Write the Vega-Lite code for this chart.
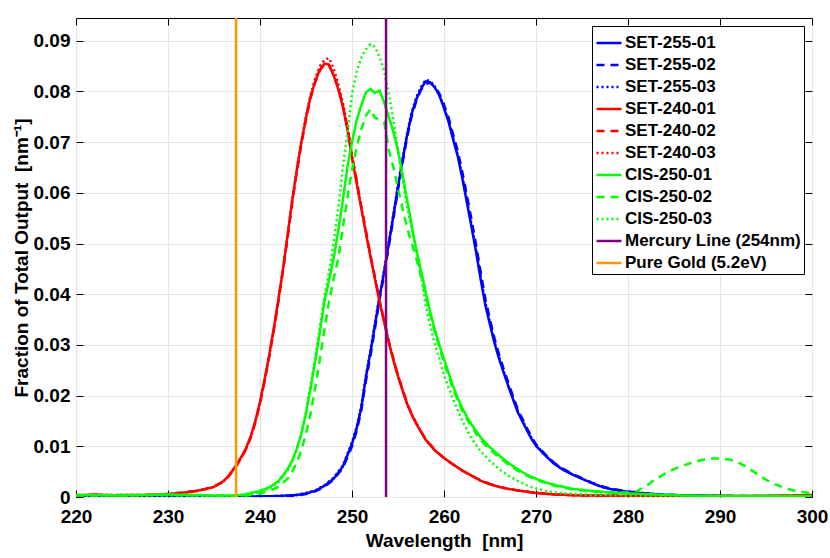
{
"$schema": "https://vega.github.io/schema/vega-lite/v6.json",
"autosize": {"type": "none"},
"padding": {"left": 76, "top": 18, "right": 18, "bottom": 61},
"width": 736,
"height": 479,
"background": "white",
"config": {
  "view": {"stroke": "black", "strokeWidth": 1},
  "font": "Liberation Sans",
  "axis": {"labelFont": "Liberation Sans", "labelFontWeight": "bold", "labelFontSize": 19, "labelColor": "black", "labelFlush": false,
    "titleFont": "Liberation Sans", "titleFontWeight": "bold", "titleFontSize": 19, "titleColor": "black",
    "domainColor": "black", "tickColor": "black", "gridColor": "#e6e6e6", "gridWidth": 1},
  "legend": {"orient": "top-right", "offset": 8, "padding": 3, "rowPadding": -1.2, "labelOffset": 2,
    "symbolType": "stroke", "symbolSize": 625, "strokeColor": "black", "fillColor": "white",
    "labelFont": "Liberation Sans", "labelFontWeight": "bold", "labelFontSize": 17, "labelColor": "black", "labelLimit": 300}
},
"datasets": {
"curves": [
{"s":"SET-255-01","x":220,"y":0.0002},{"s":"SET-255-01","x":225,"y":0.0001},{"s":"SET-255-01","x":230,"y":0.0001},{"s":"SET-255-01","x":235,"y":0.0001},{"s":"SET-255-01","x":240,"y":0.0001},{"s":"SET-255-01","x":242,"y":0.0002},{"s":"SET-255-01","x":244,"y":0.0004},{"s":"SET-255-01","x":245,"y":0.0007},{"s":"SET-255-01","x":246,"y":0.0012},{"s":"SET-255-01","x":247,"y":0.0022},{"s":"SET-255-01","x":248,"y":0.0036},{"s":"SET-255-01","x":249,"y":0.006},{"s":"SET-255-01","x":250,"y":0.0105},{"s":"SET-255-01","x":250.5,"y":0.0135},{"s":"SET-255-01","x":251,"y":0.0175},{"s":"SET-255-01","x":251.5,"y":0.0235},{"s":"SET-255-01","x":252,"y":0.0285},{"s":"SET-255-01","x":252.5,"y":0.034},{"s":"SET-255-01","x":253,"y":0.0395},{"s":"SET-255-01","x":253.5,"y":0.0445},{"s":"SET-255-01","x":254,"y":0.05},{"s":"SET-255-01","x":254.5,"y":0.0555},{"s":"SET-255-01","x":255,"y":0.0612},{"s":"SET-255-01","x":255.5,"y":0.0665},{"s":"SET-255-01","x":256,"y":0.0715},{"s":"SET-255-01","x":256.5,"y":0.0757},{"s":"SET-255-01","x":257,"y":0.0785},{"s":"SET-255-01","x":257.5,"y":0.0805},{"s":"SET-255-01","x":258,"y":0.082},{"s":"SET-255-01","x":258.5,"y":0.0818},{"s":"SET-255-01","x":259,"y":0.0808},{"s":"SET-255-01","x":259.5,"y":0.0792},{"s":"SET-255-01","x":260,"y":0.0767},{"s":"SET-255-01","x":260.5,"y":0.074},{"s":"SET-255-01","x":261,"y":0.0705},{"s":"SET-255-01","x":261.5,"y":0.0672},{"s":"SET-255-01","x":262,"y":0.0628},{"s":"SET-255-01","x":262.5,"y":0.058},{"s":"SET-255-01","x":263,"y":0.0532},{"s":"SET-255-01","x":263.5,"y":0.0482},{"s":"SET-255-01","x":264,"y":0.0428},{"s":"SET-255-01","x":264.5,"y":0.0378},{"s":"SET-255-01","x":265,"y":0.034},{"s":"SET-255-01","x":265.5,"y":0.0303},{"s":"SET-255-01","x":266,"y":0.0272},{"s":"SET-255-01","x":266.5,"y":0.0245},{"s":"SET-255-01","x":267,"y":0.0218},{"s":"SET-255-01","x":267.5,"y":0.0193},{"s":"SET-255-01","x":268,"y":0.0168},{"s":"SET-255-01","x":268.5,"y":0.015},{"s":"SET-255-01","x":269,"y":0.0132},{"s":"SET-255-01","x":269.5,"y":0.0115},{"s":"SET-255-01","x":270,"y":0.0101},{"s":"SET-255-01","x":271,"y":0.0082},{"s":"SET-255-01","x":272,"y":0.0065},{"s":"SET-255-01","x":273,"y":0.0053},{"s":"SET-255-01","x":274,"y":0.0044},{"s":"SET-255-01","x":275,"y":0.0036},{"s":"SET-255-01","x":276,"y":0.0028},{"s":"SET-255-01","x":277,"y":0.0021},{"s":"SET-255-01","x":278,"y":0.0016},{"s":"SET-255-01","x":280,"y":0.001},{"s":"SET-255-01","x":282,"y":0.0007},{"s":"SET-255-01","x":284,"y":0.0004},{"s":"SET-255-01","x":287,"y":0.0003},{"s":"SET-255-01","x":290,"y":0.0002},{"s":"SET-255-01","x":295,"y":0.0001},{"s":"SET-255-01","x":300,"y":0.0001},
{"s":"SET-255-02","x":220,"y":0.0001},{"s":"SET-255-02","x":225,"y":0.0002},{"s":"SET-255-02","x":230,"y":0.0001},{"s":"SET-255-02","x":235,"y":0.0001},{"s":"SET-255-02","x":240,"y":0.0001},{"s":"SET-255-02","x":242,"y":0.0001},{"s":"SET-255-02","x":244,"y":0.0003},{"s":"SET-255-02","x":245,"y":0.0006},{"s":"SET-255-02","x":246,"y":0.0011},{"s":"SET-255-02","x":247,"y":0.002},{"s":"SET-255-02","x":248,"y":0.0034},{"s":"SET-255-02","x":249,"y":0.0057},{"s":"SET-255-02","x":250,"y":0.01},{"s":"SET-255-02","x":250.5,"y":0.013},{"s":"SET-255-02","x":251,"y":0.017},{"s":"SET-255-02","x":251.5,"y":0.0228},{"s":"SET-255-02","x":252,"y":0.0278},{"s":"SET-255-02","x":252.5,"y":0.0333},{"s":"SET-255-02","x":253,"y":0.039},{"s":"SET-255-02","x":253.5,"y":0.044},{"s":"SET-255-02","x":254,"y":0.0495},{"s":"SET-255-02","x":254.5,"y":0.055},{"s":"SET-255-02","x":255,"y":0.0607},{"s":"SET-255-02","x":255.5,"y":0.066},{"s":"SET-255-02","x":256,"y":0.071},{"s":"SET-255-02","x":256.5,"y":0.0752},{"s":"SET-255-02","x":257,"y":0.0782},{"s":"SET-255-02","x":257.5,"y":0.0803},{"s":"SET-255-02","x":258,"y":0.0815},{"s":"SET-255-02","x":258.5,"y":0.0817},{"s":"SET-255-02","x":259,"y":0.081},{"s":"SET-255-02","x":259.5,"y":0.0796},{"s":"SET-255-02","x":260,"y":0.0774},{"s":"SET-255-02","x":260.5,"y":0.0748},{"s":"SET-255-02","x":261,"y":0.0715},{"s":"SET-255-02","x":261.5,"y":0.0682},{"s":"SET-255-02","x":262,"y":0.064},{"s":"SET-255-02","x":262.5,"y":0.0594},{"s":"SET-255-02","x":263,"y":0.0546},{"s":"SET-255-02","x":263.5,"y":0.0496},{"s":"SET-255-02","x":264,"y":0.0442},{"s":"SET-255-02","x":264.5,"y":0.039},{"s":"SET-255-02","x":265,"y":0.035},{"s":"SET-255-02","x":265.5,"y":0.0312},{"s":"SET-255-02","x":266,"y":0.028},{"s":"SET-255-02","x":266.5,"y":0.0252},{"s":"SET-255-02","x":267,"y":0.0225},{"s":"SET-255-02","x":267.5,"y":0.0199},{"s":"SET-255-02","x":268,"y":0.0174},{"s":"SET-255-02","x":268.5,"y":0.0155},{"s":"SET-255-02","x":269,"y":0.0136},{"s":"SET-255-02","x":269.5,"y":0.0119},{"s":"SET-255-02","x":270,"y":0.0104},{"s":"SET-255-02","x":271,"y":0.0084},{"s":"SET-255-02","x":272,"y":0.0067},{"s":"SET-255-02","x":273,"y":0.0055},{"s":"SET-255-02","x":274,"y":0.0045},{"s":"SET-255-02","x":275,"y":0.0037},{"s":"SET-255-02","x":276,"y":0.0029},{"s":"SET-255-02","x":277,"y":0.0022},{"s":"SET-255-02","x":278,"y":0.0017},{"s":"SET-255-02","x":280,"y":0.0011},{"s":"SET-255-02","x":282,"y":0.0007},{"s":"SET-255-02","x":284,"y":0.0005},{"s":"SET-255-02","x":287,"y":0.0003},{"s":"SET-255-02","x":290,"y":0.0002},{"s":"SET-255-02","x":295,"y":0.0002},{"s":"SET-255-02","x":300,"y":0.0001},
{"s":"SET-255-03","x":220,"y":0.0001},{"s":"SET-255-03","x":225,"y":0.0001},{"s":"SET-255-03","x":230,"y":0.0002},{"s":"SET-255-03","x":235,"y":0.0001},{"s":"SET-255-03","x":240,"y":0.0001},{"s":"SET-255-03","x":242,"y":0.0002},{"s":"SET-255-03","x":244,"y":0.0004},{"s":"SET-255-03","x":245,"y":0.0008},{"s":"SET-255-03","x":246,"y":0.0013},{"s":"SET-255-03","x":247,"y":0.0023},{"s":"SET-255-03","x":248,"y":0.0038},{"s":"SET-255-03","x":249,"y":0.0062},{"s":"SET-255-03","x":250,"y":0.0108},{"s":"SET-255-03","x":250.5,"y":0.0138},{"s":"SET-255-03","x":251,"y":0.0178},{"s":"SET-255-03","x":251.5,"y":0.0238},{"s":"SET-255-03","x":252,"y":0.0288},{"s":"SET-255-03","x":252.5,"y":0.0343},{"s":"SET-255-03","x":253,"y":0.0398},{"s":"SET-255-03","x":253.5,"y":0.0448},{"s":"SET-255-03","x":254,"y":0.0503},{"s":"SET-255-03","x":254.5,"y":0.0558},{"s":"SET-255-03","x":255,"y":0.0615},{"s":"SET-255-03","x":255.5,"y":0.0668},{"s":"SET-255-03","x":256,"y":0.0718},{"s":"SET-255-03","x":256.5,"y":0.076},{"s":"SET-255-03","x":257,"y":0.0789},{"s":"SET-255-03","x":257.5,"y":0.0809},{"s":"SET-255-03","x":258,"y":0.0823},{"s":"SET-255-03","x":258.5,"y":0.0821},{"s":"SET-255-03","x":259,"y":0.081},{"s":"SET-255-03","x":259.5,"y":0.0793},{"s":"SET-255-03","x":260,"y":0.0769},{"s":"SET-255-03","x":260.5,"y":0.0742},{"s":"SET-255-03","x":261,"y":0.0708},{"s":"SET-255-03","x":261.5,"y":0.0675},{"s":"SET-255-03","x":262,"y":0.0632},{"s":"SET-255-03","x":262.5,"y":0.0585},{"s":"SET-255-03","x":263,"y":0.0537},{"s":"SET-255-03","x":263.5,"y":0.0487},{"s":"SET-255-03","x":264,"y":0.0434},{"s":"SET-255-03","x":264.5,"y":0.0383},{"s":"SET-255-03","x":265,"y":0.0344},{"s":"SET-255-03","x":265.5,"y":0.0306},{"s":"SET-255-03","x":266,"y":0.0275},{"s":"SET-255-03","x":266.5,"y":0.0247},{"s":"SET-255-03","x":267,"y":0.022},{"s":"SET-255-03","x":267.5,"y":0.0195},{"s":"SET-255-03","x":268,"y":0.017},{"s":"SET-255-03","x":268.5,"y":0.0152},{"s":"SET-255-03","x":269,"y":0.0134},{"s":"SET-255-03","x":269.5,"y":0.0117},{"s":"SET-255-03","x":270,"y":0.0102},{"s":"SET-255-03","x":271,"y":0.0083},{"s":"SET-255-03","x":272,"y":0.0066},{"s":"SET-255-03","x":273,"y":0.0054},{"s":"SET-255-03","x":274,"y":0.0044},{"s":"SET-255-03","x":275,"y":0.0036},{"s":"SET-255-03","x":276,"y":0.0028},{"s":"SET-255-03","x":277,"y":0.0021},{"s":"SET-255-03","x":278,"y":0.0016},{"s":"SET-255-03","x":280,"y":0.001},{"s":"SET-255-03","x":282,"y":0.0007},{"s":"SET-255-03","x":284,"y":0.0004},{"s":"SET-255-03","x":287,"y":0.0003},{"s":"SET-255-03","x":290,"y":0.0002},{"s":"SET-255-03","x":295,"y":0.0001},{"s":"SET-255-03","x":300,"y":0.0001},
{"s":"SET-240-01","x":220,"y":0.0003},{"s":"SET-240-01","x":222,"y":0.0005},{"s":"SET-240-01","x":224,"y":0.0003},{"s":"SET-240-01","x":226,"y":0.0004},{"s":"SET-240-01","x":228,"y":0.0004},{"s":"SET-240-01","x":230,"y":0.0006},{"s":"SET-240-01","x":231,"y":0.0007},{"s":"SET-240-01","x":232,"y":0.0009},{"s":"SET-240-01","x":233,"y":0.0012},{"s":"SET-240-01","x":234,"y":0.0015},{"s":"SET-240-01","x":235,"y":0.002},{"s":"SET-240-01","x":236,"y":0.0031},{"s":"SET-240-01","x":236.5,"y":0.004},{"s":"SET-240-01","x":237,"y":0.0052},{"s":"SET-240-01","x":237.5,"y":0.0065},{"s":"SET-240-01","x":238,"y":0.008},{"s":"SET-240-01","x":238.5,"y":0.0097},{"s":"SET-240-01","x":239,"y":0.012},{"s":"SET-240-01","x":239.5,"y":0.015},{"s":"SET-240-01","x":240,"y":0.0188},{"s":"SET-240-01","x":240.5,"y":0.0232},{"s":"SET-240-01","x":241,"y":0.028},{"s":"SET-240-01","x":241.5,"y":0.0333},{"s":"SET-240-01","x":242,"y":0.039},{"s":"SET-240-01","x":242.5,"y":0.045},{"s":"SET-240-01","x":243,"y":0.0517},{"s":"SET-240-01","x":243.5,"y":0.0585},{"s":"SET-240-01","x":244,"y":0.0645},{"s":"SET-240-01","x":244.5,"y":0.07},{"s":"SET-240-01","x":245,"y":0.0748},{"s":"SET-240-01","x":245.5,"y":0.079},{"s":"SET-240-01","x":246,"y":0.082},{"s":"SET-240-01","x":246.5,"y":0.0843},{"s":"SET-240-01","x":247,"y":0.0855},{"s":"SET-240-01","x":247.5,"y":0.0853},{"s":"SET-240-01","x":248,"y":0.0832},{"s":"SET-240-01","x":248.5,"y":0.0805},{"s":"SET-240-01","x":249,"y":0.077},{"s":"SET-240-01","x":249.5,"y":0.0725},{"s":"SET-240-01","x":250,"y":0.0668},{"s":"SET-240-01","x":250.5,"y":0.062},{"s":"SET-240-01","x":251,"y":0.057},{"s":"SET-240-01","x":251.5,"y":0.0522},{"s":"SET-240-01","x":252,"y":0.0475},{"s":"SET-240-01","x":252.5,"y":0.043},{"s":"SET-240-01","x":253,"y":0.0385},{"s":"SET-240-01","x":253.5,"y":0.0345},{"s":"SET-240-01","x":254,"y":0.0305},{"s":"SET-240-01","x":254.5,"y":0.027},{"s":"SET-240-01","x":255,"y":0.0238},{"s":"SET-240-01","x":255.5,"y":0.021},{"s":"SET-240-01","x":256,"y":0.0183},{"s":"SET-240-01","x":256.5,"y":0.0162},{"s":"SET-240-01","x":257,"y":0.0144},{"s":"SET-240-01","x":258,"y":0.0113},{"s":"SET-240-01","x":259,"y":0.0092},{"s":"SET-240-01","x":260,"y":0.0077},{"s":"SET-240-01","x":261,"y":0.0064},{"s":"SET-240-01","x":262,"y":0.0052},{"s":"SET-240-01","x":263,"y":0.0042},{"s":"SET-240-01","x":264,"y":0.0032},{"s":"SET-240-01","x":265,"y":0.0025},{"s":"SET-240-01","x":266,"y":0.002},{"s":"SET-240-01","x":267,"y":0.0016},{"s":"SET-240-01","x":268,"y":0.0013},{"s":"SET-240-01","x":270,"y":0.0008},{"s":"SET-240-01","x":272,"y":0.0005},{"s":"SET-240-01","x":275,"y":0.0003},{"s":"SET-240-01","x":280,"y":0.0002},{"s":"SET-240-01","x":285,"y":0.0001},{"s":"SET-240-01","x":290,"y":0.0002},{"s":"SET-240-01","x":295,"y":0.0002},{"s":"SET-240-01","x":300,"y":0.0004},
{"s":"SET-240-02","x":220,"y":0.0004},{"s":"SET-240-02","x":222,"y":0.0003},{"s":"SET-240-02","x":224,"y":0.0004},{"s":"SET-240-02","x":226,"y":0.0003},{"s":"SET-240-02","x":228,"y":0.0005},{"s":"SET-240-02","x":230,"y":0.0005},{"s":"SET-240-02","x":231,"y":0.0008},{"s":"SET-240-02","x":232,"y":0.001},{"s":"SET-240-02","x":233,"y":0.0012},{"s":"SET-240-02","x":234,"y":0.0016},{"s":"SET-240-02","x":235,"y":0.0021},{"s":"SET-240-02","x":236,"y":0.003},{"s":"SET-240-02","x":236.5,"y":0.0039},{"s":"SET-240-02","x":237,"y":0.005},{"s":"SET-240-02","x":237.5,"y":0.0063},{"s":"SET-240-02","x":238,"y":0.0078},{"s":"SET-240-02","x":238.5,"y":0.0095},{"s":"SET-240-02","x":239,"y":0.0118},{"s":"SET-240-02","x":239.5,"y":0.0147},{"s":"SET-240-02","x":240,"y":0.0184},{"s":"SET-240-02","x":240.5,"y":0.0228},{"s":"SET-240-02","x":241,"y":0.0276},{"s":"SET-240-02","x":241.5,"y":0.0329},{"s":"SET-240-02","x":242,"y":0.0386},{"s":"SET-240-02","x":242.5,"y":0.0446},{"s":"SET-240-02","x":243,"y":0.0512},{"s":"SET-240-02","x":243.5,"y":0.058},{"s":"SET-240-02","x":244,"y":0.0641},{"s":"SET-240-02","x":244.5,"y":0.0697},{"s":"SET-240-02","x":245,"y":0.0745},{"s":"SET-240-02","x":245.5,"y":0.0787},{"s":"SET-240-02","x":246,"y":0.0818},{"s":"SET-240-02","x":246.5,"y":0.0841},{"s":"SET-240-02","x":247,"y":0.0853},{"s":"SET-240-02","x":247.5,"y":0.0851},{"s":"SET-240-02","x":248,"y":0.0834},{"s":"SET-240-02","x":248.5,"y":0.0808},{"s":"SET-240-02","x":249,"y":0.0774},{"s":"SET-240-02","x":249.5,"y":0.073},{"s":"SET-240-02","x":250,"y":0.0673},{"s":"SET-240-02","x":250.5,"y":0.0624},{"s":"SET-240-02","x":251,"y":0.0574},{"s":"SET-240-02","x":251.5,"y":0.0526},{"s":"SET-240-02","x":252,"y":0.0478},{"s":"SET-240-02","x":252.5,"y":0.0433},{"s":"SET-240-02","x":253,"y":0.0388},{"s":"SET-240-02","x":253.5,"y":0.0347},{"s":"SET-240-02","x":254,"y":0.0307},{"s":"SET-240-02","x":254.5,"y":0.0272},{"s":"SET-240-02","x":255,"y":0.024},{"s":"SET-240-02","x":255.5,"y":0.0212},{"s":"SET-240-02","x":256,"y":0.0185},{"s":"SET-240-02","x":256.5,"y":0.0163},{"s":"SET-240-02","x":257,"y":0.0145},{"s":"SET-240-02","x":258,"y":0.0114},{"s":"SET-240-02","x":259,"y":0.0093},{"s":"SET-240-02","x":260,"y":0.0077},{"s":"SET-240-02","x":261,"y":0.0064},{"s":"SET-240-02","x":262,"y":0.0052},{"s":"SET-240-02","x":263,"y":0.0042},{"s":"SET-240-02","x":264,"y":0.0033},{"s":"SET-240-02","x":265,"y":0.0026},{"s":"SET-240-02","x":266,"y":0.002},{"s":"SET-240-02","x":267,"y":0.0016},{"s":"SET-240-02","x":268,"y":0.0013},{"s":"SET-240-02","x":270,"y":0.0008},{"s":"SET-240-02","x":272,"y":0.0005},{"s":"SET-240-02","x":275,"y":0.0003},{"s":"SET-240-02","x":280,"y":0.0002},{"s":"SET-240-02","x":285,"y":0.0002},{"s":"SET-240-02","x":290,"y":0.0001},{"s":"SET-240-02","x":295,"y":0.0002},{"s":"SET-240-02","x":300,"y":0.0003},
{"s":"SET-240-03","x":220,"y":0.0003},{"s":"SET-240-03","x":222,"y":0.0004},{"s":"SET-240-03","x":224,"y":0.0004},{"s":"SET-240-03","x":226,"y":0.0004},{"s":"SET-240-03","x":228,"y":0.0003},{"s":"SET-240-03","x":230,"y":0.0006},{"s":"SET-240-03","x":231,"y":0.0007},{"s":"SET-240-03","x":232,"y":0.0009},{"s":"SET-240-03","x":233,"y":0.0011},{"s":"SET-240-03","x":234,"y":0.0015},{"s":"SET-240-03","x":235,"y":0.002},{"s":"SET-240-03","x":236,"y":0.003},{"s":"SET-240-03","x":236.5,"y":0.0039},{"s":"SET-240-03","x":237,"y":0.0051},{"s":"SET-240-03","x":237.5,"y":0.0064},{"s":"SET-240-03","x":238,"y":0.0079},{"s":"SET-240-03","x":238.5,"y":0.0096},{"s":"SET-240-03","x":239,"y":0.0119},{"s":"SET-240-03","x":239.5,"y":0.0149},{"s":"SET-240-03","x":240,"y":0.0186},{"s":"SET-240-03","x":240.5,"y":0.023},{"s":"SET-240-03","x":241,"y":0.0278},{"s":"SET-240-03","x":241.5,"y":0.0331},{"s":"SET-240-03","x":242,"y":0.0388},{"s":"SET-240-03","x":242.5,"y":0.0449},{"s":"SET-240-03","x":243,"y":0.0516},{"s":"SET-240-03","x":243.5,"y":0.0584},{"s":"SET-240-03","x":244,"y":0.0646},{"s":"SET-240-03","x":244.5,"y":0.0702},{"s":"SET-240-03","x":245,"y":0.0751},{"s":"SET-240-03","x":245.5,"y":0.0794},{"s":"SET-240-03","x":246,"y":0.0826},{"s":"SET-240-03","x":246.5,"y":0.085},{"s":"SET-240-03","x":247,"y":0.0862},{"s":"SET-240-03","x":247.5,"y":0.0866},{"s":"SET-240-03","x":248,"y":0.0846},{"s":"SET-240-03","x":248.5,"y":0.0815},{"s":"SET-240-03","x":249,"y":0.0778},{"s":"SET-240-03","x":249.5,"y":0.0732},{"s":"SET-240-03","x":250,"y":0.0674},{"s":"SET-240-03","x":250.5,"y":0.0625},{"s":"SET-240-03","x":251,"y":0.0574},{"s":"SET-240-03","x":251.5,"y":0.0525},{"s":"SET-240-03","x":252,"y":0.0477},{"s":"SET-240-03","x":252.5,"y":0.0432},{"s":"SET-240-03","x":253,"y":0.0387},{"s":"SET-240-03","x":253.5,"y":0.0346},{"s":"SET-240-03","x":254,"y":0.0306},{"s":"SET-240-03","x":254.5,"y":0.0271},{"s":"SET-240-03","x":255,"y":0.0239},{"s":"SET-240-03","x":255.5,"y":0.0211},{"s":"SET-240-03","x":256,"y":0.0184},{"s":"SET-240-03","x":256.5,"y":0.0163},{"s":"SET-240-03","x":257,"y":0.0145},{"s":"SET-240-03","x":258,"y":0.0114},{"s":"SET-240-03","x":259,"y":0.0092},{"s":"SET-240-03","x":260,"y":0.0077},{"s":"SET-240-03","x":261,"y":0.0064},{"s":"SET-240-03","x":262,"y":0.0052},{"s":"SET-240-03","x":263,"y":0.0042},{"s":"SET-240-03","x":264,"y":0.0032},{"s":"SET-240-03","x":265,"y":0.0025},{"s":"SET-240-03","x":266,"y":0.002},{"s":"SET-240-03","x":267,"y":0.0016},{"s":"SET-240-03","x":268,"y":0.0013},{"s":"SET-240-03","x":270,"y":0.0008},{"s":"SET-240-03","x":272,"y":0.0005},{"s":"SET-240-03","x":275,"y":0.0003},{"s":"SET-240-03","x":280,"y":0.0002},{"s":"SET-240-03","x":285,"y":0.0002},{"s":"SET-240-03","x":290,"y":0.0002},{"s":"SET-240-03","x":295,"y":0.0002},{"s":"SET-240-03","x":300,"y":0.0003},
{"s":"CIS-250-01","x":220,"y":0.0004},{"s":"CIS-250-01","x":225,"y":0.0003},{"s":"CIS-250-01","x":230,"y":0.0005},{"s":"CIS-250-01","x":233,"y":0.0004},{"s":"CIS-250-01","x":235,"y":0.0003},{"s":"CIS-250-01","x":237,"y":0.0003},{"s":"CIS-250-01","x":238,"y":0.0004},{"s":"CIS-250-01","x":239,"y":0.0008},{"s":"CIS-250-01","x":240,"y":0.0012},{"s":"CIS-250-01","x":241,"y":0.0019},{"s":"CIS-250-01","x":242,"y":0.0031},{"s":"CIS-250-01","x":243,"y":0.0055},{"s":"CIS-250-01","x":243.5,"y":0.0072},{"s":"CIS-250-01","x":244,"y":0.0095},{"s":"CIS-250-01","x":244.5,"y":0.0125},{"s":"CIS-250-01","x":245,"y":0.0165},{"s":"CIS-250-01","x":245.5,"y":0.0215},{"s":"CIS-250-01","x":246,"y":0.0268},{"s":"CIS-250-01","x":246.5,"y":0.0325},{"s":"CIS-250-01","x":247,"y":0.0385},{"s":"CIS-250-01","x":247.5,"y":0.0428},{"s":"CIS-250-01","x":248,"y":0.047},{"s":"CIS-250-01","x":248.5,"y":0.0525},{"s":"CIS-250-01","x":249,"y":0.0585},{"s":"CIS-250-01","x":249.5,"y":0.065},{"s":"CIS-250-01","x":250,"y":0.07},{"s":"CIS-250-01","x":250.5,"y":0.0743},{"s":"CIS-250-01","x":251,"y":0.0772},{"s":"CIS-250-01","x":251.5,"y":0.0798},{"s":"CIS-250-01","x":252,"y":0.0805},{"s":"CIS-250-01","x":252.5,"y":0.0797},{"s":"CIS-250-01","x":253,"y":0.0802},{"s":"CIS-250-01","x":253.5,"y":0.0778},{"s":"CIS-250-01","x":254,"y":0.075},{"s":"CIS-250-01","x":254.5,"y":0.072},{"s":"CIS-250-01","x":255,"y":0.0683},{"s":"CIS-250-01","x":255.5,"y":0.0635},{"s":"CIS-250-01","x":256,"y":0.0585},{"s":"CIS-250-01","x":256.5,"y":0.0535},{"s":"CIS-250-01","x":257,"y":0.0487},{"s":"CIS-250-01","x":257.5,"y":0.0447},{"s":"CIS-250-01","x":258,"y":0.0405},{"s":"CIS-250-01","x":258.5,"y":0.0365},{"s":"CIS-250-01","x":259,"y":0.033},{"s":"CIS-250-01","x":259.5,"y":0.03},{"s":"CIS-250-01","x":260,"y":0.0272},{"s":"CIS-250-01","x":260.5,"y":0.0245},{"s":"CIS-250-01","x":261,"y":0.0218},{"s":"CIS-250-01","x":261.5,"y":0.0195},{"s":"CIS-250-01","x":262,"y":0.0175},{"s":"CIS-250-01","x":262.5,"y":0.0158},{"s":"CIS-250-01","x":263,"y":0.0143},{"s":"CIS-250-01","x":264,"y":0.0117},{"s":"CIS-250-01","x":265,"y":0.0098},{"s":"CIS-250-01","x":266,"y":0.0082},{"s":"CIS-250-01","x":267,"y":0.0067},{"s":"CIS-250-01","x":268,"y":0.0055},{"s":"CIS-250-01","x":269,"y":0.0044},{"s":"CIS-250-01","x":270,"y":0.0036},{"s":"CIS-250-01","x":271,"y":0.0029},{"s":"CIS-250-01","x":272,"y":0.0024},{"s":"CIS-250-01","x":274,"y":0.0016},{"s":"CIS-250-01","x":276,"y":0.0012},{"s":"CIS-250-01","x":278,"y":0.0009},{"s":"CIS-250-01","x":280,"y":0.0007},{"s":"CIS-250-01","x":283,"y":0.0005},{"s":"CIS-250-01","x":286,"y":0.0003},{"s":"CIS-250-01","x":290,"y":0.0002},{"s":"CIS-250-01","x":295,"y":0.0002},{"s":"CIS-250-01","x":300,"y":0.0002},
{"s":"CIS-250-02","x":220,"y":0.0003},{"s":"CIS-250-02","x":225,"y":0.0004},{"s":"CIS-250-02","x":230,"y":0.0004},{"s":"CIS-250-02","x":235,"y":0.0003},{"s":"CIS-250-02","x":238,"y":0.0002},{"s":"CIS-250-02","x":239,"y":0.0004},{"s":"CIS-250-02","x":240,"y":0.0007},{"s":"CIS-250-02","x":241,"y":0.0012},{"s":"CIS-250-02","x":242,"y":0.002},{"s":"CIS-250-02","x":243,"y":0.0036},{"s":"CIS-250-02","x":243.5,"y":0.005},{"s":"CIS-250-02","x":244,"y":0.0068},{"s":"CIS-250-02","x":244.5,"y":0.0092},{"s":"CIS-250-02","x":245,"y":0.0125},{"s":"CIS-250-02","x":245.5,"y":0.0165},{"s":"CIS-250-02","x":246,"y":0.0215},{"s":"CIS-250-02","x":246.5,"y":0.027},{"s":"CIS-250-02","x":247,"y":0.033},{"s":"CIS-250-02","x":247.5,"y":0.0385},{"s":"CIS-250-02","x":248,"y":0.043},{"s":"CIS-250-02","x":248.5,"y":0.047},{"s":"CIS-250-02","x":249,"y":0.053},{"s":"CIS-250-02","x":249.5,"y":0.059},{"s":"CIS-250-02","x":250,"y":0.0645},{"s":"CIS-250-02","x":250.5,"y":0.069},{"s":"CIS-250-02","x":251,"y":0.0725},{"s":"CIS-250-02","x":251.5,"y":0.0752},{"s":"CIS-250-02","x":252,"y":0.0765},{"s":"CIS-250-02","x":252.5,"y":0.0748},{"s":"CIS-250-02","x":253,"y":0.0745},{"s":"CIS-250-02","x":253.5,"y":0.074},{"s":"CIS-250-02","x":254,"y":0.0685},{"s":"CIS-250-02","x":254.5,"y":0.065},{"s":"CIS-250-02","x":255,"y":0.061},{"s":"CIS-250-02","x":255.5,"y":0.0568},{"s":"CIS-250-02","x":256,"y":0.053},{"s":"CIS-250-02","x":256.5,"y":0.05},{"s":"CIS-250-02","x":257,"y":0.047},{"s":"CIS-250-02","x":257.5,"y":0.0435},{"s":"CIS-250-02","x":258,"y":0.0398},{"s":"CIS-250-02","x":258.5,"y":0.036},{"s":"CIS-250-02","x":259,"y":0.0325},{"s":"CIS-250-02","x":259.5,"y":0.0295},{"s":"CIS-250-02","x":260,"y":0.0265},{"s":"CIS-250-02","x":261,"y":0.0212},{"s":"CIS-250-02","x":262,"y":0.017},{"s":"CIS-250-02","x":263,"y":0.0138},{"s":"CIS-250-02","x":264,"y":0.0112},{"s":"CIS-250-02","x":265,"y":0.0093},{"s":"CIS-250-02","x":266,"y":0.0078},{"s":"CIS-250-02","x":267,"y":0.0064},{"s":"CIS-250-02","x":268,"y":0.0052},{"s":"CIS-250-02","x":269,"y":0.0042},{"s":"CIS-250-02","x":270,"y":0.0034},{"s":"CIS-250-02","x":272,"y":0.0022},{"s":"CIS-250-02","x":274,"y":0.0015},{"s":"CIS-250-02","x":276,"y":0.0011},{"s":"CIS-250-02","x":278,"y":0.0009},{"s":"CIS-250-02","x":280,"y":0.0009},{"s":"CIS-250-02","x":281,"y":0.0012},{"s":"CIS-250-02","x":282,"y":0.0022},{"s":"CIS-250-02","x":283,"y":0.0035},{"s":"CIS-250-02","x":284,"y":0.0046},{"s":"CIS-250-02","x":285,"y":0.0055},{"s":"CIS-250-02","x":286,"y":0.0062},{"s":"CIS-250-02","x":287,"y":0.0068},{"s":"CIS-250-02","x":288,"y":0.0073},{"s":"CIS-250-02","x":289,"y":0.0076},{"s":"CIS-250-02","x":290,"y":0.0076},{"s":"CIS-250-02","x":291,"y":0.0074},{"s":"CIS-250-02","x":292,"y":0.0068},{"s":"CIS-250-02","x":293,"y":0.0058},{"s":"CIS-250-02","x":294,"y":0.0046},{"s":"CIS-250-02","x":295,"y":0.0034},{"s":"CIS-250-02","x":296,"y":0.0025},{"s":"CIS-250-02","x":297,"y":0.0018},{"s":"CIS-250-02","x":298,"y":0.0013},{"s":"CIS-250-02","x":299,"y":0.001},{"s":"CIS-250-02","x":300,"y":0.0007},
{"s":"CIS-250-03","x":220,"y":0.0003},{"s":"CIS-250-03","x":225,"y":0.0003},{"s":"CIS-250-03","x":230,"y":0.0003},{"s":"CIS-250-03","x":235,"y":0.0002},{"s":"CIS-250-03","x":238,"y":0.0003},{"s":"CIS-250-03","x":239,"y":0.0006},{"s":"CIS-250-03","x":240,"y":0.001},{"s":"CIS-250-03","x":241,"y":0.0017},{"s":"CIS-250-03","x":242,"y":0.0029},{"s":"CIS-250-03","x":243,"y":0.0052},{"s":"CIS-250-03","x":243.5,"y":0.007},{"s":"CIS-250-03","x":244,"y":0.0093},{"s":"CIS-250-03","x":244.5,"y":0.0125},{"s":"CIS-250-03","x":245,"y":0.0168},{"s":"CIS-250-03","x":245.5,"y":0.022},{"s":"CIS-250-03","x":246,"y":0.0275},{"s":"CIS-250-03","x":246.5,"y":0.0335},{"s":"CIS-250-03","x":247,"y":0.0395},{"s":"CIS-250-03","x":247.5,"y":0.0445},{"s":"CIS-250-03","x":248,"y":0.05},{"s":"CIS-250-03","x":248.5,"y":0.057},{"s":"CIS-250-03","x":249,"y":0.065},{"s":"CIS-250-03","x":249.5,"y":0.0718},{"s":"CIS-250-03","x":250,"y":0.0795},{"s":"CIS-250-03","x":250.5,"y":0.0838},{"s":"CIS-250-03","x":251,"y":0.0866},{"s":"CIS-250-03","x":251.5,"y":0.0883},{"s":"CIS-250-03","x":252,"y":0.0893},{"s":"CIS-250-03","x":252.5,"y":0.0888},{"s":"CIS-250-03","x":253,"y":0.0868},{"s":"CIS-250-03","x":253.5,"y":0.084},{"s":"CIS-250-03","x":254,"y":0.0795},{"s":"CIS-250-03","x":254.5,"y":0.0744},{"s":"CIS-250-03","x":255,"y":0.0683},{"s":"CIS-250-03","x":255.5,"y":0.0625},{"s":"CIS-250-03","x":256,"y":0.0572},{"s":"CIS-250-03","x":256.5,"y":0.053},{"s":"CIS-250-03","x":257,"y":0.049},{"s":"CIS-250-03","x":257.5,"y":0.0438},{"s":"CIS-250-03","x":258,"y":0.0378},{"s":"CIS-250-03","x":258.5,"y":0.0338},{"s":"CIS-250-03","x":259,"y":0.0302},{"s":"CIS-250-03","x":259.5,"y":0.0272},{"s":"CIS-250-03","x":260,"y":0.024},{"s":"CIS-250-03","x":260.5,"y":0.0215},{"s":"CIS-250-03","x":261,"y":0.0192},{"s":"CIS-250-03","x":262,"y":0.015},{"s":"CIS-250-03","x":263,"y":0.0115},{"s":"CIS-250-03","x":264,"y":0.009},{"s":"CIS-250-03","x":265,"y":0.0071},{"s":"CIS-250-03","x":266,"y":0.0055},{"s":"CIS-250-03","x":267,"y":0.0042},{"s":"CIS-250-03","x":268,"y":0.0032},{"s":"CIS-250-03","x":269,"y":0.0023},{"s":"CIS-250-03","x":270,"y":0.0017},{"s":"CIS-250-03","x":271,"y":0.0012},{"s":"CIS-250-03","x":272,"y":0.0009},{"s":"CIS-250-03","x":274,"y":0.0006},{"s":"CIS-250-03","x":277,"y":0.0004},{"s":"CIS-250-03","x":280,"y":0.0003},{"s":"CIS-250-03","x":285,"y":0.0002},{"s":"CIS-250-03","x":290,"y":0.0001},{"s":"CIS-250-03","x":295,"y":0.0001},{"s":"CIS-250-03","x":300,"y":0.0001}
],
"vlines": [
{"s":"Mercury Line (254nm)","x":253.7},
{"s":"Pure Gold (5.2eV)","x":237.4}
],
"frame": [{"x":220,"y":0}]
},
"resolve": {"axis": {"x": "independent", "y": "independent"}},
"layer": [
{
  "data": {"name": "curves"},
  "mark": {"type": "line", "clip": true, "interpolate": "linear"},
  "encoding": {
    "x": {"field": "x", "type": "quantitative", "scale": {"domain": [220, 300], "nice": false, "zero": false},
      "axis": {"orient": "bottom", "title": "Wavelength \u00a0[nm]", "values": [220,230,240,250,260,270,280,290,300],
        "format": "d", "grid": true, "tickSize": -7, "labelPadding": 17, "titlePadding": 5, "domain": false}},
    "y": {"field": "y", "type": "quantitative", "scale": {"domain": [0, 0.0945], "nice": false},
      "axis": {"orient": "left", "title": "Fraction of Total Output \u00a0[nm\u207b\u00b9]", "values": [0,0.01,0.02,0.03,0.04,0.05,0.06,0.07,0.08,0.09],
        "labelExpr": "datum.value == 0 ? '0' : format(datum.value, '.2f')", "grid": true, "tickSize": -7, "labelPadding": 13, "titlePadding": 2, "domain": false}},
    "color": {"field": "s", "type": "nominal", "legend": {"title": null},
      "scale": {"domain": ["SET-255-01","SET-255-02","SET-255-03","SET-240-01","SET-240-02","SET-240-03","CIS-250-01","CIS-250-02","CIS-250-03","Mercury Line (254nm)","Pure Gold (5.2eV)"],
        "range": ["#0000ff","#0000ff","#0000ff","#ff0000","#ff0000","#ff0000","#00ff00","#00ff00","#00ff00","#800080","#ff9900"]}},
    "strokeDash": {"field": "s", "type": "nominal", "legend": {"title": null},
      "scale": {"domain": ["SET-255-01","SET-255-02","SET-255-03","SET-240-01","SET-240-02","SET-240-03","CIS-250-01","CIS-250-02","CIS-250-03","Mercury Line (254nm)","Pure Gold (5.2eV)"],
        "range": [[1,0],[8,6],[2,3],[1,0],[8,6],[2,3],[1,0],[8,6],[2,3],[1,0],[1,0]]}},
    "strokeWidth": {"field": "s", "type": "nominal", "legend": {"title": null},
      "scale": {"domain": ["SET-255-01","SET-255-02","SET-255-03","SET-240-01","SET-240-02","SET-240-03","CIS-250-01","CIS-250-02","CIS-250-03","Mercury Line (254nm)","Pure Gold (5.2eV)"],
        "range": [2.5,2.5,2.5,2.5,2.5,2.5,2.5,2.5,2.5,3.5,3.5]}},
    "order": {"field": "x", "type": "quantitative"}
  }
},
{
  "data": {"name": "vlines"},
  "mark": {"type": "rule", "clip": true},
  "encoding": {
    "x": {"field": "x", "type": "quantitative", "scale": {"domain": [220, 300], "nice": false, "zero": false},
      "axis": {"orient": "top", "title": null, "labels": false, "grid": false, "values": [220,230,240,250,260,270,280,290,300], "tickSize": -7, "domain": false}},
    "color": {"field": "s", "type": "nominal", "legend": {"title": null}},
    "strokeDash": {"field": "s", "type": "nominal", "legend": {"title": null}},
    "strokeWidth": {"field": "s", "type": "nominal", "legend": {"title": null}}
  }
},
{
  "data": {"name": "frame"},
  "mark": {"type": "point", "opacity": 0},
  "encoding": {
    "x": {"field": "x", "type": "quantitative", "scale": {"domain": [220, 300], "nice": false, "zero": false}, "axis": null},
    "y": {"field": "y", "type": "quantitative", "scale": {"domain": [0, 0.0945], "nice": false},
      "axis": {"orient": "right", "title": null, "labels": false, "grid": false, "values": [0,0.01,0.02,0.03,0.04,0.05,0.06,0.07,0.08,0.09], "tickSize": -7, "domain": false}}
  }
}
]
}
